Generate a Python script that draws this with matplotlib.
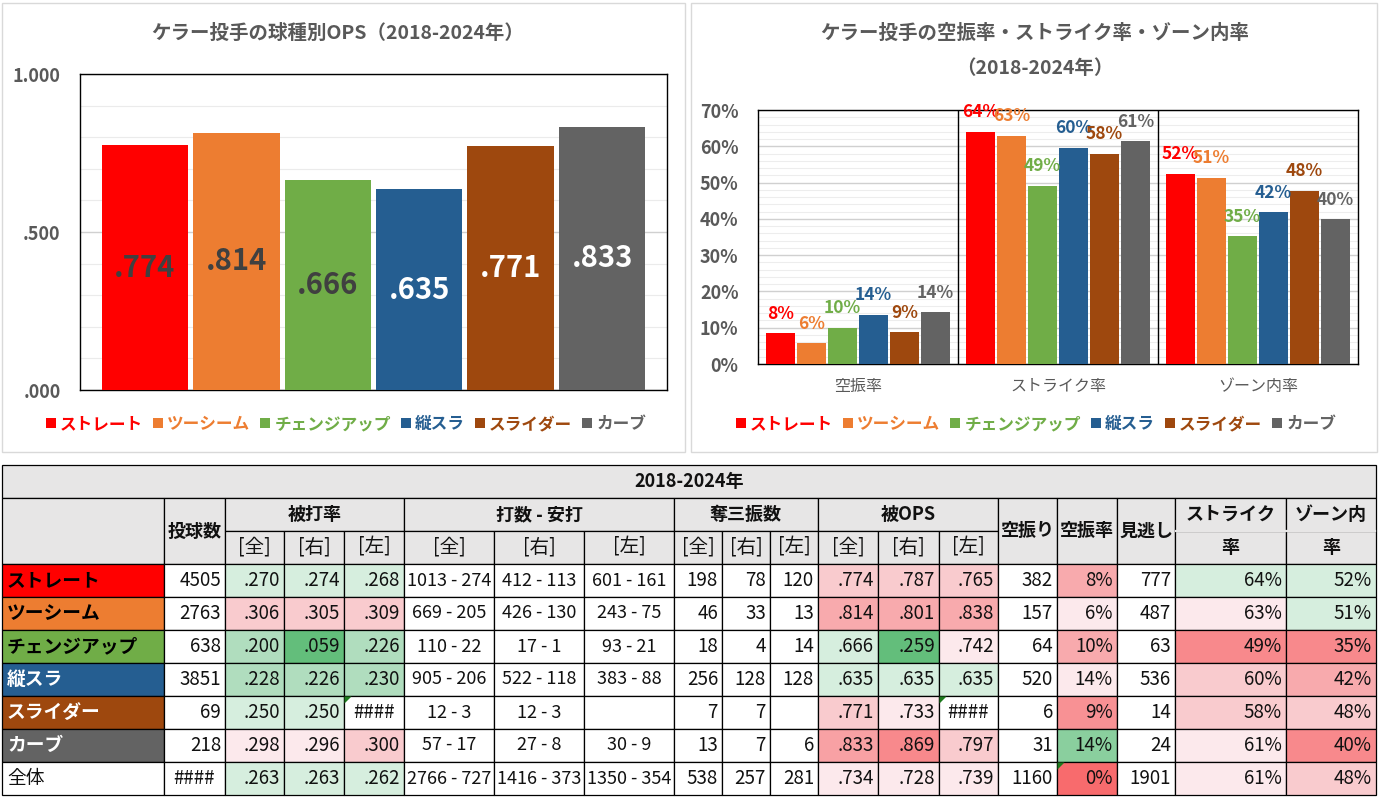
import matplotlib
matplotlib.use('Agg')
import matplotlib.pyplot as plt
from matplotlib.patches import Rectangle, Patch, Polygon
import numpy as np

plt.rcParams['font.family'] = ['Noto Sans CJK JP', 'DejaVu Sans']

# ---------------- data ----------------
pitch_types = ['ストレート', 'ツーシーム', 'チェンジアップ', '縦スラ', 'スライダー', 'カーブ']
row_names = pitch_types + ['全体']

rate_groups = ['空振率', 'ストライク率', 'ゾーン内率']
whiff_pct = [0.0848, 0.057, 0.100, 0.136, 0.087, 0.142]
strike_pct = [0.640, 0.629, 0.491, 0.596, 0.579, 0.614]
zone_pct = [0.524, 0.513, 0.352, 0.419, 0.477, 0.399]

n_pitches = [4505, 2763, 638, 3851, 69, 218, '####']
avg_all = [0.270, 0.306, 0.200, 0.228, 0.250, 0.298, 0.263]
avg_r = [0.274, 0.305, 0.059, 0.226, 0.250, 0.296, 0.263]
avg_l = [0.268, 0.309, 0.226, 0.230, '####', 0.300, 0.262]
ab_all = [1013, 669, 110, 905, 12, 57, 2766]
h_all = [274, 205, 22, 206, 3, 17, 727]
ab_r = [412, 426, 17, 522, 12, 27, 1416]
h_r = [113, 130, 1, 118, 3, 8, 373]
ab_l = [601, 243, 93, 383, None, 30, 1350]
h_l = [161, 75, 21, 88, None, 9, 354]
so_all = [198, 46, 18, 256, 7, 13, 538]
so_r = [78, 33, 4, 128, 7, 7, 257]
so_l = [120, 13, 14, 128, None, 6, 281]
ops_all = [0.774, 0.814, 0.666, 0.635, 0.771, 0.833, 0.734]
ops_r = [0.787, 0.801, 0.259, 0.635, 0.733, 0.869, 0.728]
ops_l = [0.765, 0.838, 0.742, 0.635, '####', 0.797, 0.739]
whiffs = [382, 157, 64, 520, 6, 31, 1160]
whiff_rate = [8, 6, 10, 14, 9, 14, 0]
looking = [777, 487, 63, 536, 14, 24, 1901]
strike_rate = [64, 63, 49, 60, 58, 61, 61]
zone_rate = [52, 51, 35, 42, 48, 40, 48]

colors = ['#FF0000', '#ED7D31', '#70AD47', '#255E91', '#9E480E', '#636363']
gray_txt = '#595959'

W, H = 1379, 797
fig = plt.figure(figsize=(W / 100, H / 100), dpi=100)
bg = fig.add_axes([0, 0, 1, 1])
bg.set_xlim(0, W)
bg.set_ylim(H, 0)
bg.axis('off')


def px_axes(x0, y0, x1, y1):
    return fig.add_axes([x0 / W, 1 - y1 / H, (x1 - x0) / W, (y1 - y0) / H])


# chart frames
bg.add_patch(Rectangle((2, 3), 683, 449, fill=False, ec='#D9D9D9', lw=1))
bg.add_patch(Rectangle((691, 3), 686, 449, fill=False, ec='#D9D9D9', lw=1))

# ---------------- left chart ----------------
bg.text(338, 33, 'ケラー投手の球種別OPS（2018-2024年）', ha='center', va='center',
        fontsize=14, fontweight='bold', color=gray_txt)
ax1 = px_axes(80, 74, 667, 390)
x = np.arange(len(pitch_types))
ops = ops_all[:6]
ax1.bar(x, ops, width=0.945, color=colors, zorder=3)
ax1.set_xlim(-0.71, 5.71)
ax1.set_ylim(0, 1)
ax1.set_yticks([0, 0.5, 1.0])
ax1.set_yticklabels(['.000', '.500', '1.000'])
ax1.set_yticks(np.arange(0, 1.01, 0.1), minor=True)
ax1.grid(axis='y', which='minor', color='#EBEBEB', lw=0.8, zorder=0)
ax1.grid(axis='y', which='major', color='#D0D0D0', lw=1, zorder=0)
ax1.tick_params(axis='y', which='both', length=0, pad=14, labelsize=13, labelcolor=gray_txt)
ax1.set_xticks([])
for lbl in ax1.get_yticklabels():
    lbl.set_fontweight('bold')
for s in ax1.spines.values():
    s.set_color('black')
    s.set_linewidth(1)
val_colors = ['#404040', '#404040', '#404040', 'white', 'white', 'white']
for xi, v, c in zip(x, ops, val_colors):
    ax1.text(xi, v / 2, f'{v:.3f}'[1:], ha='center', va='center', fontsize=21,
             fontweight='bold', color=c, zorder=4)

# ---------------- right chart ----------------
bg.text(1035, 33, 'ケラー投手の空振率・ストライク率・ゾーン内率', ha='center', va='center',
        fontsize=14, fontweight='bold', color=gray_txt)
bg.text(1035, 68, '（2018-2024年）', ha='center', va='center',
        fontsize=14, fontweight='bold', color=gray_txt)
ax2 = px_axes(758, 110, 1358, 364)
rates = [whiff_pct, strike_pct, zone_pct]
gx = np.arange(len(rate_groups))
step, bw = 0.155, 0.1475
for j, c in enumerate(colors):
    vals = [r[j] for r in rates]
    xs = gx + (j - 2.5) * step
    ax2.bar(xs, vals, width=bw, color=c, zorder=3)
    for xx, v in zip(xs, vals):
        ax2.annotate(f'{v:.0%}', (xx, v), xytext=(0, 14), textcoords='offset points',
                     ha='center', va='center', color=c, fontsize=12.5, fontweight='bold',
                     zorder=5, annotation_clip=False)
ax2.set_xlim(-0.5, 2.5)
ax2.set_ylim(0, 0.7)
ax2.set_yticks(np.arange(0, 0.71, 0.1))
ax2.set_yticklabels([f'{int(round(t * 100))}%' for t in np.arange(0, 0.71, 0.1)])
ax2.set_yticks(np.arange(0, 0.701, 0.02), minor=True)
ax2.grid(axis='y', which='minor', color='#EDEDED', lw=0.8, zorder=0)
ax2.grid(axis='y', which='major', color='#D0D0D0', lw=1, zorder=0)
ax2.set_xticks(gx)
ax2.set_xticklabels(rate_groups)
ax2.tick_params(axis='y', which='both', length=0, pad=14, labelsize=13, labelcolor=gray_txt)
ax2.tick_params(axis='x', length=0, pad=10, labelsize=11.5, labelcolor=gray_txt)
for lbl in ax2.get_yticklabels():
    lbl.set_fontweight('bold')
for xv in (0.5, 1.5):
    ax2.axvline(xv, color='black', lw=1, zorder=4)
for s in ax2.spines.values():
    s.set_color('black')
    s.set_linewidth(1)

# legends
handles = [Patch(facecolor=c, edgecolor='none') for c in colors]
for cx in (346, 1036):
    leg = fig.legend(handles, pitch_types, loc='center', bbox_to_anchor=(cx / W, 1 - 424 / H),
                     ncol=6, frameon=False, prop={'size': 12, 'weight': 'bold'},
                     handlelength=0.6, handleheight=0.6, handletextpad=0.25,
                     columnspacing=0.6, borderpad=0)
    for t, c in zip(leg.get_texts(), colors):
        t.set_color(c)

# ---------------- table ----------------
col_edges = [2, 164, 225, 284, 344, 404, 494, 584, 674, 722, 770, 818, 878, 939, 998,
             1057, 1117, 1175, 1286, 1376]
row_edges = [465, 498, 531, 564, 597, 630, 663, 696, 729, 762, 795]
head_fill = '#E7E6E6'
txt = '#111111'


def cell(c0, c1, r0, r1, fill='white', text='', ha='center', size=13, **kw):
    x0, x1 = col_edges[c0], col_edges[c1]
    y0, y1 = row_edges[r0], row_edges[r1]
    bg.add_patch(Rectangle((x0, y0), x1 - x0, y1 - y0, facecolor=fill, edgecolor='black', lw=0.9))
    if text != '':
        tx = {'left': x0 + 5, 'right': x1 - 4, 'center': (x0 + x1) / 2}[ha]
        kw.setdefault('color', txt)
        bg.text(tx, (y0 + y1) / 2, text, ha=ha, va='center', fontsize=size, **kw)


cell(0, 19, 0, 1, head_fill, '2018-2024年', fontweight='bold')
cell(0, 1, 1, 3, head_fill)
cell(1, 2, 1, 3, head_fill, '投球数', fontweight='bold')
for name, c0 in [('被打率', 2), ('打数 - 安打', 5), ('奪三振数', 8), ('被OPS', 11)]:
    cell(c0, c0 + 3, 1, 2, head_fill, name, fontweight='bold')
    for k, b in enumerate(['[全]', '[右]', '[左]']):
        cell(c0 + k, c0 + k + 1, 2, 3, head_fill, b, size=14)
for c, name in zip([14, 15, 16], ['空振り', '空振率', '見逃し']):
    cell(c, c + 1, 1, 3, head_fill, name, fontweight='bold')
for c, (l1, l2) in zip([17, 18], [('ストライク', '率'), ('ゾーン内', '率')]):
    cell(c, c + 1, 1, 2, head_fill, l1, fontweight='bold')
    cell(c, c + 1, 2, 3, head_fill, l2, fontweight='bold')
# remove inner line of the two-line header cells
for c in (17, 18):
    bg.plot([col_edges[c] + 0.8, col_edges[c + 1] - 0.8], [row_edges[2]] * 2, color=head_fill, lw=1.6, zorder=3)


def fmt_avg(v):
    return v if isinstance(v, str) else f'{v:.3f}'[1:]


def fmt_pair(a, b):
    return '' if a is None else f'{a} - {b}'


def fmt_int(v):
    return '' if v is None else str(v)


columns = [
    [fmt_int(v) for v in n_pitches],
    [fmt_avg(v) for v in avg_all], [fmt_avg(v) for v in avg_r], [fmt_avg(v) for v in avg_l],
    [fmt_pair(a, b) for a, b in zip(ab_all, h_all)],
    [fmt_pair(a, b) for a, b in zip(ab_r, h_r)],
    [fmt_pair(a, b) for a, b in zip(ab_l, h_l)],
    [fmt_int(v) for v in so_all], [fmt_int(v) for v in so_r], [fmt_int(v) for v in so_l],
    [fmt_avg(v) for v in ops_all], [fmt_avg(v) for v in ops_r], [fmt_avg(v) for v in ops_l],
    [fmt_int(v) for v in whiffs], [f'{v}%' for v in whiff_rate], [fmt_int(v) for v in looking],
    [f'{v}%' for v in strike_rate], [f'{v}%' for v in zone_rate],
]
aligns = ['right'] * 4 + ['center'] * 3 + ['right'] * 11

# conditional-format fill shades
LG, MG, SG, CG = '#D6EEDE', '#B0DDBE', '#63BE7B', '#8ACF9E'
P1, P2, P3, P4, P5, WH = '#FCE9EC', '#F9CBCE', '#F8AAAD', '#F8898C', '#F86B6D', 'white'
fills = {
    1: [LG, P2, MG, MG, LG, P1, LG],
    2: [LG, P2, SG, MG, LG, P1, LG],
    3: [LG, P2, MG, MG, WH, P2, LG],
    10: [P2, P3, LG, LG, P2, '#F8A1A4', P1],
    11: [P2, P3, SG, LG, P1, P4, P1],
    12: [P2, P3, P1, LG, WH, P2, P1],
    14: [P3, P1, P3, P1, '#F89194', CG, P5],
    16: [LG, P1, P4, P2, P2, P1, P1],
    17: [LG, LG, P4, P3, P2, P4, P2],
}
name_text = ['black', 'black', 'black', 'white', 'white', 'white', 'black']

for i, name in enumerate(row_names):
    r = 3 + i
    if i < 6:
        cell(0, 1, r, r + 1, colors[i], name, ha='left', size=13.5, fontweight='bold', color=name_text[i])
    else:
        cell(0, 1, r, r + 1, 'white', name, ha='left', size=13.5)
    for k, col in enumerate(columns):
        fill = fills.get(k, [WH] * 7)[i]
        s = col[i]
        ha = 'center' if s == '####' else aligns[k]
        size = 13 if aligns[k] == 'center' else 13.5
        cell(k + 1, k + 2, r, r + 1, fill, s, ha=ha, size=size)

# small error-indicator triangles
for r, c in [(7, 4), (7, 13), (9, 15)]:
    x0, y0 = col_edges[c] + 0.5, row_edges[r] + 0.5
    bg.add_patch(Polygon([(x0, y0), (x0 + 7, y0), (x0, y0 + 7)], closed=True,
                         facecolor='#1D7A1D', edgecolor='none', zorder=4))

fig.savefig('out.png', dpi=100)
